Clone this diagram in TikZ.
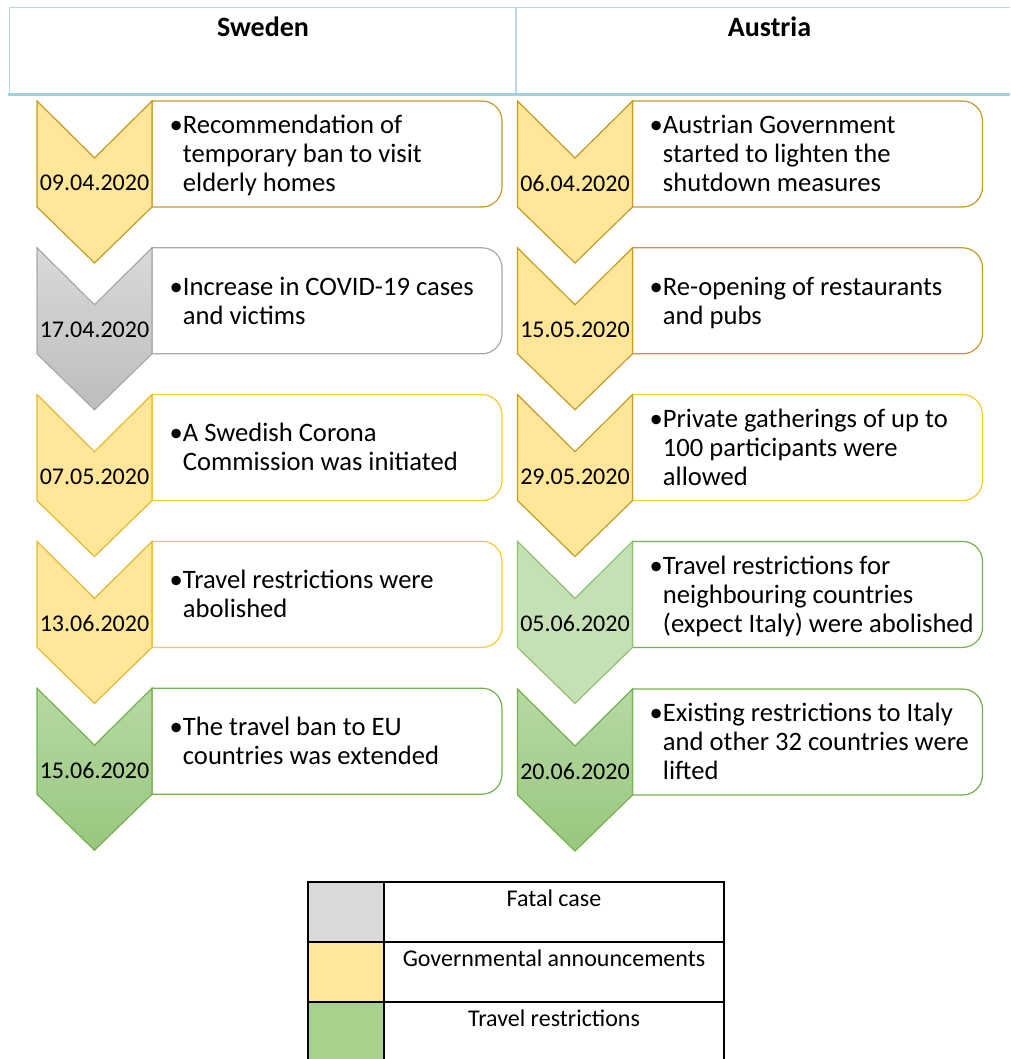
\documentclass[tikz,border=0pt]{standalone}
\usepackage{fontspec}
\setmainfont{Carlito}
\usepackage{xcolor}
\usepackage{tikz}

\definecolor{headblue}{HTML}{9DD2E0}
\definecolor{headthin}{HTML}{B3DCE8}
\definecolor{goldline}{HTML}{C59B23}
\definecolor{brightline}{HTML}{FFC829}
\definecolor{brightchev}{HTML}{E8B72E}
\definecolor{govfill}{HTML}{FFE699}
\definecolor{grayline}{HTML}{A9A9A9}
\definecolor{graytop}{HTML}{D9D9D9}
\definecolor{graybot}{HTML}{BDBDBD}
\definecolor{greenline}{HTML}{74B04C}
\definecolor{greentop}{HTML}{B7D9A3}
\definecolor{greenbot}{HTML}{98C77F}
\definecolor{lightgreen}{HTML}{C5E0B4}
\definecolor{lightgreenline}{HTML}{8DC26F}
\definecolor{fatalgray}{HTML}{D9D9D9}
\definecolor{travelgreen}{HTML}{A9D18E}

\begin{document}
\begin{tikzpicture}[x=1pt, y=-1pt, line join=miter]

\tikzstyle{headtext}=[inner sep=0pt, font=\fontsize{28}{32}\selectfont\bfseries]
\tikzstyle{datetext}=[inner sep=0pt, font=\fontsize{24}{29}\selectfont]
\tikzstyle{itemtext}=[anchor=west, inner sep=0pt, yshift=-3pt, font=\fontsize{26.6}{29}\selectfont]
\tikzstyle{legendtext}=[inner sep=0pt, font=\fontsize{24}{29}\selectfont]
\tikzstyle{govchev}=[fill=govfill, draw=goldline, line width=1.2pt]
\tikzstyle{govchevb}=[fill=govfill, draw=brightchev, line width=1.2pt]
\tikzstyle{fatalchev}=[top color=graytop, bottom color=graybot, draw=grayline, line width=1.2pt]
\tikzstyle{travelchev}=[top color=greentop, bottom color=greenbot, draw=greenline, line width=1.2pt]
\tikzstyle{travelchevl}=[fill=lightgreen, draw=lightgreenline, line width=1.2pt]
\tikzstyle{govbox}=[fill=white, draw=goldline, line width=1.2pt]
\tikzstyle{govboxb}=[fill=white, draw=brightline, line width=1.2pt]
\tikzstyle{fatalbox}=[fill=white, draw=grayline, line width=1.2pt]
\tikzstyle{travelbox}=[fill=white, draw=greenline, line width=1.2pt]
\tikzstyle{legendline}=[draw=black, line width=2pt]

\useasboundingbox (0,0) rectangle (1010,1059);
\clip (0,0) rectangle (1010,1059);

% header of the two columns
\draw[headthin, line width=1.5pt] (9.5,94) -- (9.5,7.5) -- (1010,7.5);
\draw[headthin, line width=1.5pt] (516,7.5) -- (516,94);
\draw[headblue, line width=3pt] (8,94.5) -- (1010,94.5);
\node[headtext] (sweden) at (263,27) {Sweden};
\node[headtext] (austria) at (769.5,27) {Austria};

% Sweden
\draw[govbox] (152,101) -- ++(330,0) arc[start angle=270,end angle=360,radius=20] -- ++(0,66) arc[start angle=0,end angle=90,radius=20] -- ++(-330,0) -- cycle;
\draw[govchev] (37,101) -- ++(57.5,57) -- ++(57.5,-57) -- ++(0,106) -- ++(-57.5,56) -- ++(-57.5,-56) -- cycle;
\node[datetext] (sd1) at (94.5,183) {09.04.2020};
\node[itemtext] (s1) at (169.5,154) {\begin{tabular}{@{}l@{}l@{}}\textbullet&Recommendation of\\&temporary ban to visit\\&elderly homes\end{tabular}};

\draw[fatalbox] (152,247.8) -- ++(330,0) arc[start angle=270,end angle=360,radius=20] -- ++(0,66) arc[start angle=0,end angle=90,radius=20] -- ++(-330,0) -- cycle;
\draw[fatalchev] (37,247.8) -- ++(57.5,57) -- ++(57.5,-57) -- ++(0,106) -- ++(-57.5,56) -- ++(-57.5,-56) -- cycle;
\node[datetext] (sd2) at (94.5,329.8) {17.04.2020};
\node[itemtext] (s2) at (169.5,300.8) {\begin{tabular}{@{}l@{}l@{}}\textbullet&Increase in COVID-19 cases\\&and victims\end{tabular}};

\draw[govboxb] (152,394.6) -- ++(330,0) arc[start angle=270,end angle=360,radius=20] -- ++(0,66) arc[start angle=0,end angle=90,radius=20] -- ++(-330,0) -- cycle;
\draw[govchevb] (37,394.6) -- ++(57.5,57) -- ++(57.5,-57) -- ++(0,106) -- ++(-57.5,56) -- ++(-57.5,-56) -- cycle;
\node[datetext] (sd3) at (94.5,476.6) {07.05.2020};
\node[itemtext] (s3) at (169.5,447.6) {\begin{tabular}{@{}l@{}l@{}}\textbullet&A Swedish Corona\\&Commission was initiated\end{tabular}};

\draw[govboxb] (152,541.4) -- ++(330,0) arc[start angle=270,end angle=360,radius=20] -- ++(0,66) arc[start angle=0,end angle=90,radius=20] -- ++(-330,0) -- cycle;
\draw[govchevb] (37,541.4) -- ++(57.5,57) -- ++(57.5,-57) -- ++(0,106) -- ++(-57.5,56) -- ++(-57.5,-56) -- cycle;
\node[datetext] (sd4) at (94.5,623.4) {13.06.2020};
\node[itemtext] (s4) at (169.5,594.4) {\begin{tabular}{@{}l@{}l@{}}\textbullet&Travel restrictions were\\&abolished\end{tabular}};

\draw[travelbox] (152,688.2) -- ++(330,0) arc[start angle=270,end angle=360,radius=20] -- ++(0,66) arc[start angle=0,end angle=90,radius=20] -- ++(-330,0) -- cycle;
\draw[travelchev] (37,688.2) -- ++(57.5,57) -- ++(57.5,-57) -- ++(0,106) -- ++(-57.5,56) -- ++(-57.5,-56) -- cycle;
\node[datetext] (sd5) at (94.5,770.2) {15.06.2020};
\node[itemtext] (s5) at (169.5,741.2) {\begin{tabular}{@{}l@{}l@{}}\textbullet&The travel ban to EU\\&countries was extended\end{tabular}};

% Austria
\draw[govbox] (632.5,101) -- ++(330,0) arc[start angle=270,end angle=360,radius=20] -- ++(0,66) arc[start angle=0,end angle=90,radius=20] -- ++(-330,0) -- cycle;
\draw[govchev] (517.5,101) -- ++(57.5,57) -- ++(57.5,-57) -- ++(0,106) -- ++(-57.5,56) -- ++(-57.5,-56) -- cycle;
\node[datetext] (ad1) at (575,183) {06.04.2020};
\node[itemtext] (a1) at (649.5,154) {\begin{tabular}{@{}l@{}l@{}}\textbullet&Austrian Government\\&started to lighten the\\&shutdown measures\end{tabular}};

\draw[govbox] (632.5,247.8) -- ++(330,0) arc[start angle=270,end angle=360,radius=20] -- ++(0,66) arc[start angle=0,end angle=90,radius=20] -- ++(-330,0) -- cycle;
\draw[govchev] (517.5,247.8) -- ++(57.5,57) -- ++(57.5,-57) -- ++(0,106) -- ++(-57.5,56) -- ++(-57.5,-56) -- cycle;
\node[datetext] (ad2) at (575,329.8) {15.05.2020};
\node[itemtext] (a2) at (649.5,300.8) {\begin{tabular}{@{}l@{}l@{}}\textbullet&Re-opening of restaurants\\&and pubs\end{tabular}};

\draw[govboxb] (632.5,394.6) -- ++(330,0) arc[start angle=270,end angle=360,radius=20] -- ++(0,66) arc[start angle=0,end angle=90,radius=20] -- ++(-330,0) -- cycle;
\draw[govchev] (517.5,394.6) -- ++(57.5,57) -- ++(57.5,-57) -- ++(0,106) -- ++(-57.5,56) -- ++(-57.5,-56) -- cycle;
\node[datetext] (ad3) at (575,476.6) {29.05.2020};
\node[itemtext] (a3) at (649.5,447.6) {\begin{tabular}{@{}l@{}l@{}}\textbullet&Private gatherings of up to\\&100 participants were\\&allowed\end{tabular}};

\draw[travelbox] (632.5,541.4) -- ++(330,0) arc[start angle=270,end angle=360,radius=20] -- ++(0,66) arc[start angle=0,end angle=90,radius=20] -- ++(-330,0) -- cycle;
\draw[travelchevl] (517.5,541.4) -- ++(57.5,57) -- ++(57.5,-57) -- ++(0,106) -- ++(-57.5,56) -- ++(-57.5,-56) -- cycle;
\node[datetext] (ad4) at (575,623.4) {05.06.2020};
\node[itemtext] (a4) at (649.5,594.4) {\begin{tabular}{@{}l@{}l@{}}\textbullet&Travel restrictions for\\&neighbouring countries\\&(expect Italy) were abolished\end{tabular}};

\draw[travelbox] (632.5,689) -- ++(330,0) arc[start angle=270,end angle=360,radius=20] -- ++(0,66) arc[start angle=0,end angle=90,radius=20] -- ++(-330,0) -- cycle;
\draw[travelchev] (517.5,689) -- ++(57.5,57) -- ++(57.5,-57) -- ++(0,106) -- ++(-57.5,56) -- ++(-57.5,-56) -- cycle;
\node[datetext] (ad5) at (575,771) {20.06.2020};
\node[itemtext] (a5) at (649.5,742) {\begin{tabular}{@{}l@{}l@{}}\textbullet&Existing restrictions to Italy\\&and other 32 countries were\\&lifted\end{tabular}};

% legend
\fill[fatalgray] (308,882) rectangle (384,941.7);
\fill[govfill] (308,941.7) rectangle (384,1001.7);
\fill[travelgreen] (308,1001.7) rectangle (384,1062);
\draw[legendline] (308,1062) -- (308,882) -- (724,882) -- (724,1062);
\draw[legendline] (384,882) -- (384,1062);
\draw[legendline] (308,941.7) -- (724,941.7);
\draw[legendline] (308,1001.7) -- (724,1001.7);
\node[legendtext] (lfatal) at (554,898) {Fatal case};
\node[legendtext] (lgov) at (554,958) {Governmental announcements};
\node[legendtext] (ltravel) at (554,1018) {Travel restrictions};

\end{tikzpicture}
\end{document}
